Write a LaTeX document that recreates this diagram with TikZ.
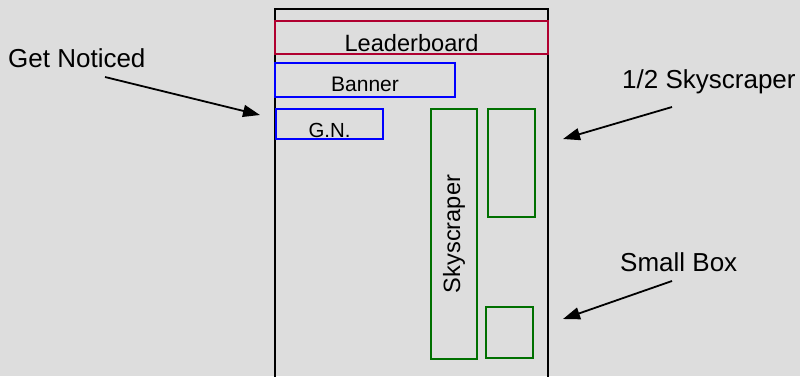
\documentclass[tikz,border=0pt]{standalone}
\usepackage{fontspec}
\setmainfont{Liberation Sans}
\usetikzlibrary{arrows.meta}
\definecolor{bg}{HTML}{DDDDDD}
\definecolor{lbred}{RGB}{176,0,48}
\definecolor{adblue}{RGB}{0,0,255}
\definecolor{adgreen}{RGB}{0,112,0}
\begin{document}
\begin{tikzpicture}[x=1pt,y=-1pt,
  slot/.style={draw, line width=2pt},
  lbl/.style={inner sep=0pt, anchor=base west, font=\fontsize{26}{28}\selectfont},
  intxt/.style={inner sep=0pt, anchor=base},
  pointer/.style={line width=1.8pt, -{Triangle[length=17pt,width=12pt]}}]
\fill[bg] (0,0) rectangle (800,376);
\useasboundingbox (0,0) rectangle (800,376);
\clip (0,0) rectangle (800,376);
% page frame
\draw[line width=2pt] (275,9) rectangle (548,400);
% slots
\draw[slot, lbred] (275,21) rectangle (548,54);
\node[intxt, font=\fontsize{23.6}{26}\selectfont] (lb) at (411.5,51) {Leaderboard};
\draw[slot, adblue] (275,63) rectangle (455,97);
\node[intxt, font=\fontsize{21}{24}\selectfont] (bn) at (365,91) {Banner};
\draw[slot, adblue] (276,109) rectangle (383,139);
\node[intxt, font=\fontsize{20.4}{23}\selectfont] (gn) at (329.5,137) {G.N.};
\draw[slot, adgreen] (431,109) rectangle (477,359);
\node[intxt, rotate=90, font=\fontsize{23.6}{26}\selectfont] (sk) at (460,234) {Skyscraper};
\draw[slot, adgreen] (488,109) rectangle (535,217);
\draw[slot, adgreen] (486,307) rectangle (533,358);
% labels
\node[lbl] (lgn) at (8,67) {Get Noticed};
\node[lbl] (lhs) at (622,88) {1/2 Skyscraper};
\node[lbl] (lsb) at (620,271) {Small Box};
% arrows
\coordinate (a1s) at (105,77);
\coordinate (a1e) at (260,115);
\coordinate (a2s) at (672,107);
\coordinate (a2e) at (563,139);
\coordinate (a3s) at (672,281);
\coordinate (a3e) at (563,319);
\draw[pointer] (a1s) -- (a1e);
\draw[pointer] (a2s) -- (a2e);
\draw[pointer] (a3s) -- (a3e);
\end{tikzpicture}
\end{document}
